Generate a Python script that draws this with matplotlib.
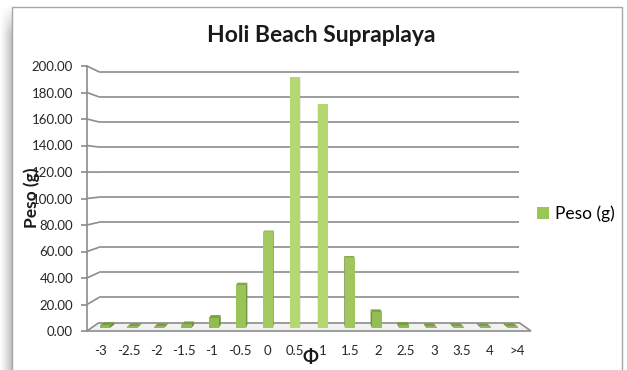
import numpy as np
import matplotlib
matplotlib.use("Agg")
import matplotlib.pyplot as plt
from matplotlib.patches import Polygon, Rectangle

plt.rcParams['font.family'] = ['Lato', 'DejaVu Sans']

# ---- data ----
categories = ['-3', '-2.5', '-2', '-1.5', '-1', '-0.5', '0', '0.5', '1',
              '1.5', '2', '2.5', '3', '3.5', '4', '>4']
peso = [2.0, 1.0, 1.0, 2.5, 7.5, 33.0, 74.0, 193.0, 172.0,
        54.0, 12.0, 2.0, 1.0, 1.0, 1.0, 1.0]
y_ticks = [0, 20, 40, 60, 80, 100, 120, 140, 160, 180, 200]
title = 'Holi Beach Supraplaya'
series_name = 'Peso (g)'

W, H = 627, 370
fig = plt.figure(figsize=(W / 100, H / 100), dpi=100)

# background layer: soft shadow on the left and the chart frame
bg = fig.add_axes([0, 0, 1, 1], zorder=-5)
bg.set_xlim(0, W)
bg.set_ylim(H, 0)
bg.axis('off')
gx = np.linspace(0, 1, 40)
gy = np.linspace(0, 1, 120)
GX, GY = np.meshgrid(gx, gy)
alpha = (GX ** 1.2) * np.clip((GY - 0.01) / 0.08, 0, 1) * 0.5
rgba = np.zeros((120, 40, 4))
rgba[..., :3] = 0.5
rgba[..., 3] = alpha
bg.imshow(rgba, extent=(0, 12, H, 0), aspect='auto', interpolation='bilinear')
bg.add_patch(Rectangle((12, 7), 610, 380, facecolor='white', edgecolor='#a8a8a8', lw=1.0))

# plot area (front plane of the 3D box)
x0, x1, ytop, ybot = 87, 531, 66, 331
ax = fig.add_axes([x0 / W, (H - ybot) / H, (x1 - x0) / W, (ybot - ytop) / H])
n = len(categories)
ax.set_xlim(-0.5, n - 0.5)
ax.set_ylim(0, 200)
ax.patch.set_alpha(0)
for s in ['top', 'right', 'bottom']:
    ax.spines[s].set_visible(False)
ax.spines['left'].set_color('#8c8c8c')
ax.spines['left'].set_linewidth(1.2)
ax.set_yticks(y_ticks)
ax.set_yticklabels([f'{v:.2f}' for v in y_ticks])
ax.tick_params(axis='y', length=4, width=1.2, color='#8c8c8c', pad=6,
               labelsize=9.5, labelcolor='#262626')
ax.set_xticks(range(n))
ax.set_xticklabels(categories)
ax.tick_params(axis='x', length=0, pad=10, labelsize=9.5, labelcolor='#262626')

# simple perspective: depth t (0 = front, 1 = back wall) shrinks toward a vanishing point
VPX, VPY, K = 7.5, 118.5, 0.054


def proj(x, v, t):
    s = 1 - K * t
    return VPX + s * (x - VPX), VPY + s * (v - VPY)


grid_kw = dict(color='#8c8c8c', lw=1.2, solid_capstyle='butt', clip_on=False)
# back-wall gridlines and the diagonal connectors from the value axis
for v in y_ticks:
    bx0, by = proj(-0.5, v, 1)
    bx1, _ = proj(n - 0.5, v, 1)
    ax.plot([bx0, bx1], [by, by], zorder=1, **grid_kw)
    ax.plot([-0.5, bx0], [v, by], zorder=1, **grid_kw)

# floor: front edge and right edge
fx1, fy1 = proj(n - 0.5, 0, 1)
ax.add_patch(Polygon([proj(-0.5, 0, 0), proj(n - 0.5, 0, 0), (fx1, fy1), proj(-0.5, 0, 1)],
                     closed=True, facecolor='#f2f2f2', edgecolor='none', zorder=0.5))
ax.plot([-0.5, n - 0.5], [0, 0], zorder=2, **grid_kw)
ax.plot([n - 0.5, fx1], [0, fy1], zorder=2, **grid_kw)

# 3D columns
T1, T2, BW = 0.35, 0.75, 0.37
light = np.array([0.714, 0.847, 0.451])
dark = np.array([0.545, 0.722, 0.290])
vmax = max(peso)
front_x, front_w, front_b, front_h, front_c = [], [], [], [], []
for i, v in enumerate(peso):
    frac = (v / vmax) ** 0.6
    col = dark + (light - dark) * frac
    side = col * 0.75
    topc = col * 0.85
    xl, xr = i - BW / 2, i + BW / 2
    # side face toward the vanishing point
    xs = xr if i < VPX else xl
    ax.add_patch(Polygon([proj(xs, 0, T1), proj(xs, v, T1), proj(xs, v, T2), proj(xs, 0, T2)],
                         closed=True, facecolor=side, edgecolor='none', zorder=3))
    # top face when the column top is below eye level
    if v < VPY:
        ax.add_patch(Polygon([proj(xl, v, T1), proj(xr, v, T1), proj(xr, v, T2), proj(xl, v, T2)],
                             closed=True, facecolor=topc, edgecolor='none', zorder=3))
    fxl, fyb = proj(xl, 0, T1)
    fxr, fyt = proj(xr, v, T1)
    front_x.append((fxl + fxr) / 2)
    front_w.append(fxr - fxl)
    front_b.append(fyb)
    front_h.append(fyt - fyb)
    front_c.append(col)

bars = ax.bar(front_x, front_h, width=front_w, bottom=front_b, color=front_c,
              edgecolor='none', zorder=4, label=series_name)

# texts
fig.text(321 / W, 1 - 36 / H, title, ha='center', va='center', fontsize=16.5,
         fontweight='bold', color='#1a1a1a')
fig.text(32 / W, 1 - 198 / H, series_name, rotation=90, ha='center', va='center',
         fontsize=12.5, fontweight='bold', color='#1a1a1a')
fig.text(310 / W, 1 - 357 / H, 'Φ', ha='center', va='center', fontsize=13.5,
         fontweight='bold', color='#1a1a1a')

leg = fig.legend([Rectangle((0, 0), 1, 1, facecolor='#9bc55a')], [series_name],
                 loc='center left', bbox_to_anchor=(537 / W, 1 - 214 / H),
                 frameon=False, fontsize=12.5, handlelength=0.7, handleheight=0.7,
                 handletextpad=0.35, borderaxespad=0, borderpad=0)

fig.savefig('out.png', dpi=100)
